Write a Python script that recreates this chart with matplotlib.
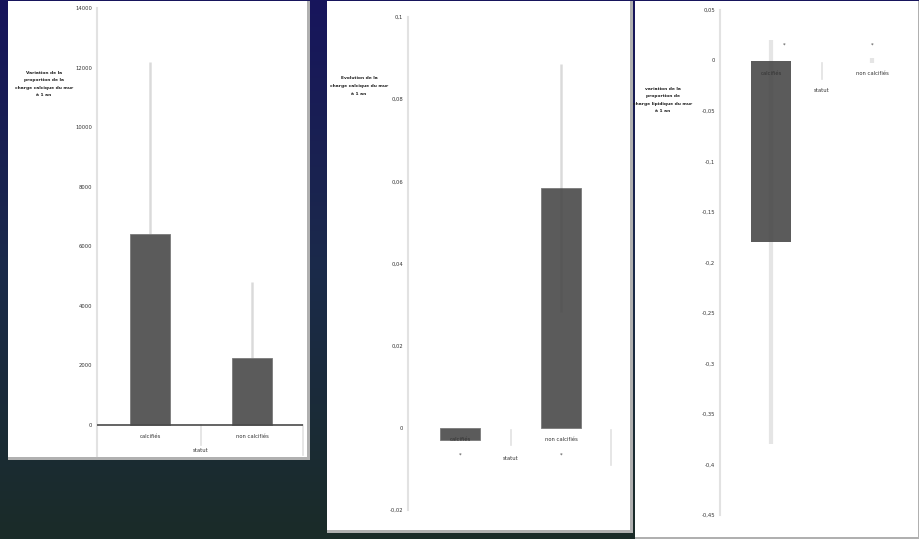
import numpy as np
import matplotlib.pyplot as plt
from matplotlib.patches import Rectangle
from matplotlib.colors import LinearSegmentedColormap

W, H = 920, 539

statut = ["calcifiés", "non calcifiés"]

# variation de la charge calcique
calc_vals = [6400, 2250]
calc_err = [5800, 2550]
calc_ticks = [0, 2000, 4000, 6000, 8000, 10000, 12000, 14000]

# variation de la charge totale
tot_vals = [-0.003, 0.0583]
tot_err = [0.0, 0.0302]
tot_ticks = [-0.02, 0, 0.02, 0.04, 0.06, 0.08, 0.1]
tot_labels = ["-0,02", "0", "0,02", "0,04", "0,06", "0,08", "0,1"]

# variation de la charge lipidique
lip_vals = [-0.18, 0.0]
lip_err = [0.2, 0.002]
lip_ticks = [-0.45, -0.4, -0.35, -0.3, -0.25, -0.2, -0.15, -0.1, -0.05, 0, 0.05]
lip_labels = ["-0,45", "-0,4", "-0,35", "-0,3", "-0,25", "-0,2", "-0,15",
              "-0,1", "-0,05", "0", "0,05"]

BAR = "#5b5b5b"
ERR = "#4a4a4a"
TXT = "#333333"
FS = 3.8
FS_TITLE = 3.2


def px_axes(fig, left, top, right, bottom):
    return fig.add_axes([left / W, 1 - bottom / H, (right - left) / W, (bottom - top) / H])


def px2pt(p):
    return p * 72 / 100


def style(ax, ticks, labels):
    ax.set_facecolor("none")
    for s in ["top", "right", "bottom"]:
        ax.spines[s].set_visible(False)
    ax.spines["left"].set_color("#e2e2e2")
    ax.spines["left"].set_linewidth(1.5)
    ax.set_xticks([])
    ax.set_yticks(ticks, labels)
    ax.tick_params(axis="y", length=0, pad=3.5, labelsize=FS, labelcolor=TXT)


def label(ax, text, x, dy_px, **kw):
    ax.annotate(text, (x, 0), xytext=(0, -px2pt(dy_px)), textcoords="offset points",
                ha="center", va="center", fontsize=FS, color=TXT,
                annotation_clip=False, **kw)


def sep(ax, x, k, y0, y1):
    ax.plot([x, x], [-y0 * k, -y1 * k], color="#e2e2e2", lw=1.2, clip_on=False)


fig = plt.figure(figsize=(W / 100, H / 100), dpi=100)

# fond en dégradé + panneaux blancs
bg = fig.add_axes([0, 0, 1, 1])
cmap = LinearSegmentedColormap.from_list("fond", ["#17155c", "#1b2a4a", "#1a2c28"])
bg.imshow(np.linspace(0, 1, 256).reshape(-1, 1), cmap=cmap, aspect="auto",
          extent=[0, W, H, 0])
bg.set_xlim(0, W)
bg.set_ylim(H, 0)
bg.axis("off")
for x0, y0, x1, y1 in [(8, 1, 310, 460), (327, 1, 633, 533), (635, 1, 921, 540)]:
    bg.add_patch(Rectangle((x0, y0), x1 - x0, y1 - y0, facecolor="#b0b0b0", lw=0))
    bg.add_patch(Rectangle((x0, y0), x1 - x0 - 3, y1 - y0 - 3, facecolor="white", lw=0))

x = np.arange(len(statut))

# panneau 1
k1 = 2000 / 59.6
ax1 = px_axes(fig, 97, 8, 303, 456)
ax1.bar(x, calc_vals, width=0.4, color=BAR, edgecolor="#7a7a7a", lw=0.6, zorder=2)
ax1.errorbar(x, calc_vals, yerr=[[0, 0], calc_err], fmt="none", ecolor=ERR,
             alpha=0.2, elinewidth=1.8, capsize=0, zorder=1)
ax1.axhline(0, color="#4a4a4a", lw=1.2, zorder=3)
ax1.set_xlim(-0.52, 1.5)
ax1.set_ylim(-31 * k1, 14000)
style(ax1, calc_ticks, [str(t) for t in calc_ticks])
for i, s in enumerate(statut):
    label(ax1, s, i, 11)
label(ax1, "statut", 0.5, 25)
sep(ax1, 0.5, k1, 0, 20)
sep(ax1, 1.5, k1, 0, 30)
bg.text(44, 84, "Variation de la\nproportion de la\ncharge calcique du mur\nà 1 an",
        ha="center", va="center", fontsize=FS_TITLE, fontweight="bold", color="#222222",
        linespacing=2.0)

# panneau 2
k2 = 0.02 / 82
ax2 = px_axes(fig, 408, 17, 612, 510)
ax2.bar(x, tot_vals, width=0.4, color=BAR, edgecolor="#7a7a7a", lw=0.6, zorder=2)
ax2.errorbar(x, tot_vals, yerr=tot_err, fmt="none", ecolor=ERR, alpha=0.2,
             elinewidth=1.8, capsize=0, zorder=3)
ax2.set_xlim(-0.515, 1.505)
ax2.set_ylim(-0.02, 0.1)
style(ax2, tot_ticks, tot_labels)
for i, s in enumerate(statut):
    label(ax2, s, i, 12, zorder=4)
    label(ax2, "*", i, 27)
label(ax2, "statut", 0.5, 31)
sep(ax2, 0.5, k2, 2, 17)
sep(ax2, 1.5, k2, 2, 37)
bg.text(359, 86, "Evolution de la\ncharge calcique du mur\nà 1 an",
        ha="center", va="center", fontsize=FS_TITLE, fontweight="bold", color="#222222",
        linespacing=2.2)

# panneau 3
k3 = 0.05 / 50.5
ax3 = px_axes(fig, 720, 10, 920, 515)
ax3.bar(x, lip_vals, width=0.4, color=BAR, edgecolor="none", zorder=2)
ax3.errorbar(x, lip_vals, yerr=lip_err, fmt="none", ecolor=ERR, alpha=0.14,
             elinewidth=3, capsize=0, zorder=3)
ax3.set_xlim(-0.505, 1.475)
ax3.set_ylim(-0.45, 0.05)
style(ax3, lip_ticks, lip_labels)
for i, s in enumerate(statut):
    label(ax3, s, i, 13, zorder=4)
    label(ax3, "*", i + 0.13 * (1 - i), -15)
label(ax3, "statut", 0.5, 30)
sep(ax3, 0.5, k3, 2, 18)
bg.text(663, 100, "variation de la\nproportion de\ncharge lipidique du mur\nà 1 an",
        ha="center", va="center", fontsize=FS_TITLE, fontweight="bold", color="#222222",
        linespacing=2.2)

fig.savefig("out.png", dpi=100)
